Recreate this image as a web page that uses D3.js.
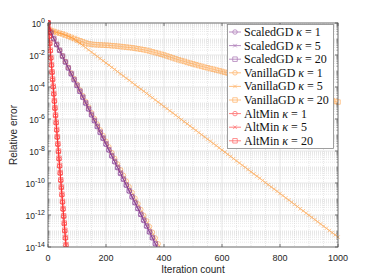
<!DOCTYPE html>
<html><head><meta charset="utf-8">
<script src="https://cdn.jsdelivr.net/npm/d3@7"></script>
<style>body{margin:0;background:#fff}svg{display:block}</style>
</head><body><svg id="c" width="374" height="280"></svg>
<script>
// ---- data (log10 of relative error) ----
const iters10_380 = [0,10,20,30,40,50,60,70,80,90,100,110,120,130,140,150,160,170,180,190,200,210,220,230,240,250,260,270,280,290,300,310,320,330,340,350,360,370,380];
const iters10_390 = iters10_380.concat([390]);
const iters10_1000 = [0,10,20,30,40,50,60,70,80,90,100,110,120,130,140,150,160,170,180,190,200,210,220,230,240,250,260,270,280,290,300,310,320,330,340,350,360,370,380,390,400,410,420,430,440,450,460,470,480,490,500,510,520,530,540,550,560,570,580,590,600,610,620,630,640,650,660,670,680,690,700,710,720,730,740,750,760,770,780,790,800,810,820,830,840,850,860,870,880,890,900,910,920,930,940,950,960,970,980,990,1000];
const iters2_64 = [0,2,4,6,8,10,12,14,16,18,20,22,24,26,28,30,32,34,36,38,40,42,44,46,48,50,52,54,56,58,60,62,64];

const scaledGD1 = [0,-0.62,-1.0,-1.37,-1.73,-2.10,-2.46,-2.83,-3.20,-3.56,-3.93,-4.29,-4.66,-5.03,-5.39,-5.76,-6.12,-6.49,-6.86,-7.22,-7.59,-7.95,-8.32,-8.69,-9.05,-9.42,-9.78,-10.15,-10.52,-10.88,-11.25,-11.61,-11.98,-12.35,-12.71,-13.08,-13.44,-13.81,-14.17];
const scaledGD5 = [0,-0.60,-0.98,-1.35,-1.71,-2.08,-2.45,-2.81,-3.18,-3.55,-3.91,-4.28,-4.64,-5.01,-5.38,-5.74,-6.11,-6.47,-6.84,-7.21,-7.57,-7.94,-8.30,-8.67,-9.04,-9.40,-9.77,-10.13,-10.50,-10.87,-11.23,-11.60,-11.96,-12.33,-12.70,-13.06,-13.43,-13.79,-14.16];
const scaledGD20 = [0,-0.58,-0.96,-1.33,-1.70,-2.06,-2.43,-2.80,-3.16,-3.53,-3.89,-4.26,-4.63,-4.99,-5.36,-5.72,-6.09,-6.46,-6.82,-7.19,-7.55,-7.92,-8.29,-8.65,-9.02,-9.38,-9.75,-10.12,-10.48,-10.85,-11.21,-11.58,-11.95,-12.31,-12.68,-13.04,-13.41,-13.78,-14.14];
const vanillaGD1 = [0,-0.60,-0.98,-1.34,-1.69,-2.05,-2.40,-2.76,-3.12,-3.47,-3.83,-4.18,-4.54,-4.90,-5.25,-5.61,-5.96,-6.32,-6.68,-7.03,-7.39,-7.74,-8.10,-8.46,-8.81,-9.17,-9.52,-9.88,-10.24,-10.59,-10.95,-11.30,-11.66,-12.02,-12.37,-12.73,-13.08,-13.44,-13.80,-14.15];
const vanillaGD5 = [0,-0.47,-0.53,-0.59,-0.64,-0.69,-0.76,-0.83,-0.91,-1.00,-1.14,-1.27,-1.41,-1.54,-1.68,-1.82,-1.95,-2.09,-2.22,-2.36,-2.50,-2.63,-2.77,-2.90,-3.04,-3.18,-3.31,-3.45,-3.58,-3.72,-3.86,-3.99,-4.13,-4.26,-4.40,-4.54,-4.67,-4.81,-4.94,-5.08,-5.22,-5.35,-5.49,-5.62,-5.76,-5.90,-6.03,-6.17,-6.30,-6.44,-6.58,-6.71,-6.85,-6.98,-7.12,-7.26,-7.39,-7.53,-7.66,-7.80,-7.94,-8.07,-8.21,-8.34,-8.48,-8.62,-8.75,-8.89,-9.02,-9.16,-9.30,-9.43,-9.57,-9.70,-9.84,-9.98,-10.11,-10.25,-10.38,-10.52,-10.66,-10.79,-10.93,-11.06,-11.20,-11.34,-11.47,-11.61,-11.74,-11.88,-12.02,-12.15,-12.29,-12.42,-12.56,-12.70,-12.83,-12.97,-13.10,-13.24,-13.38];
const vanillaGD20 = [0,-0.47,-0.53,-0.59,-0.64,-0.69,-0.76,-0.83,-0.90,-0.97,-1.04,-1.11,-1.18,-1.25,-1.30,-1.33,-1.35,-1.36,-1.37,-1.38,-1.39,-1.40,-1.42,-1.43,-1.45,-1.47,-1.49,-1.51,-1.53,-1.55,-1.58,-1.61,-1.64,-1.67,-1.71,-1.75,-1.80,-1.85,-1.90,-1.95,-2.00,-2.06,-2.12,-2.18,-2.24,-2.30,-2.35,-2.40,-2.46,-2.51,-2.56,-2.61,-2.66,-2.71,-2.76,-2.80,-2.85,-2.89,-2.94,-2.98,-3.03,-3.08,-3.13,-3.17,-3.22,-3.27,-3.32,-3.37,-3.41,-3.46,-3.51,-3.56,-3.61,-3.65,-3.70,-3.75,-3.80,-3.85,-3.89,-3.94,-3.99,-4.04,-4.09,-4.13,-4.18,-4.23,-4.28,-4.33,-4.37,-4.42,-4.47,-4.52,-4.57,-4.61,-4.66,-4.71,-4.76,-4.81,-4.85,-4.90,-4.94];
const altMin1 = [0,-0.40,-0.85,-1.30,-1.76,-2.21,-2.66,-3.11,-3.56,-4.01,-4.46,-4.91,-5.36,-5.81,-6.26,-6.71,-7.16,-7.61,-8.06,-8.51,-8.96,-9.41,-9.86,-10.31,-10.76,-11.21,-11.66,-12.11,-12.56,-13.01,-13.46,-13.91,-14.36];
const altMin5 = [0,-0.38,-0.83,-1.28,-1.73,-2.18,-2.63,-3.08,-3.53,-3.98,-4.43,-4.88,-5.33,-5.78,-6.23,-6.68,-7.13,-7.58,-8.03,-8.48,-8.93,-9.38,-9.83,-10.28,-10.73,-11.18,-11.63,-12.08,-12.53,-12.98,-13.43,-13.88,-14.33];
const altMin20 = [0,-0.36,-0.80,-1.25,-1.70,-2.15,-2.60,-3.05,-3.50,-3.95,-4.40,-4.85,-5.30,-5.75,-6.20,-6.65,-7.10,-7.55,-8.00,-8.45,-8.90,-9.35,-9.80,-10.25,-10.70,-11.15,-11.60,-12.05,-12.50,-12.95,-13.40,-13.85,-14.30];

const legendLabels = ["ScaledGD","ScaledGD","ScaledGD","VanillaGD","VanillaGD","VanillaGD","AltMin","AltMin","AltMin"];
const kappas = [1,5,20,1,5,20,1,5,20];
const xTicks = [0,200,400,600,800,1000];
const yTickExps = [0,-2,-4,-6,-8,-10,-12,-14];

// ---- styles ----
const PURPLE="#7E2F8E", ORANGE="#FF8C1A", RED="#FF1A1A";
const series = [
  {name:"ScaledGD",k:1,it:iters10_380,v:scaledGD1,c:PURPLE,m:"o"},
  {name:"ScaledGD",k:5,it:iters10_380,v:scaledGD5,c:PURPLE,m:"x"},
  {name:"ScaledGD",k:20,it:iters10_380,v:scaledGD20,c:PURPLE,m:"s"},
  {name:"VanillaGD",k:1,it:iters10_390,v:vanillaGD1,c:ORANGE,m:"o"},
  {name:"VanillaGD",k:5,it:iters10_1000,v:vanillaGD5,c:ORANGE,m:"x"},
  {name:"VanillaGD",k:20,it:iters10_1000,v:vanillaGD20,c:ORANGE,m:"s"},
  {name:"AltMin",k:1,it:iters2_64,v:altMin1,c:RED,m:"o"},
  {name:"AltMin",k:5,it:iters2_64,v:altMin5,c:RED,m:"x"},
  {name:"AltMin",k:20,it:iters2_64,v:altMin20,c:RED,m:"s"}
];

const L=48,R=338,T=23,B=247;
const svg=d3.select("#c");
const x=d3.scaleLinear().domain([0,1000]).range([L,R]);
const y=d3.scaleLog().domain([1e-14,1]).range([B,T]);

// grid
const g=svg.append("g");
const minorY=[];
for(let e=-14;e<0;e++){for(let m=1;m<=9;m++){if(m===1&&e%2===0)continue;minorY.push(m*Math.pow(10,e));}}
g.selectAll(".my").data(minorY).join("line")
 .attr("x1",L).attr("x2",R).attr("y1",d=>y(d)).attr("y2",d=>y(d))
 .attr("stroke","#d9d9d9").attr("stroke-width",0.6).attr("stroke-dasharray","1,1");
const minorX=d3.range(50,1000,50).filter(v=>v%200!==0);
g.selectAll(".mx").data(minorX).join("line")
 .attr("y1",T).attr("y2",B).attr("x1",d=>x(d)).attr("x2",d=>x(d))
 .attr("stroke","#d9d9d9").attr("stroke-width",0.6).attr("stroke-dasharray","1,1");
g.selectAll(".gy").data(yTickExps).join("line")
 .attr("x1",L).attr("x2",R).attr("y1",d=>y(Math.pow(10,d))).attr("y2",d=>y(Math.pow(10,d)))
 .attr("stroke","#dcdcdc").attr("stroke-width",0.7);
g.selectAll(".gx").data(xTicks).join("line")
 .attr("y1",T).attr("y2",B).attr("x1",d=>x(d)).attr("x2",d=>x(d))
 .attr("stroke","#dcdcdc").attr("stroke-width",0.7);

// clip
svg.append("clipPath").attr("id","clip").append("rect").attr("x",L).attr("y",T-3).attr("width",R-L+3).attr("height",B-T+3);

function markerPath(m,s){
  if(m==="o"){const r=s/2;return `M${-r},0a${r},${r} 0 1,0 ${2*r},0a${r},${r} 0 1,0 ${-2*r},0`;}
  if(m==="x"){const r=s/2;return `M${-r},${-r}L${r},${r}M${-r},${r}L${r},${-r}`;}
  const r=s/2;return `M${-r},${-r}H${r}V${r}H${-r}Z`;
}
const line=d3.line().x(d=>x(d[0])).y(d=>y(Math.pow(10,d[1])));
const drawOrder=[3,4,5,0,1,2,6,7,8];
const plot=svg.append("g").attr("clip-path","url(#clip)");
drawOrder.forEach(i=>{
  const s=series[i];
  const pts=s.it.map((t,j)=>[t,s.v[j]]);
  const gg=plot.append("g").attr("opacity",0.6);
  gg.append("path").attr("d",line(pts)).attr("fill","none").attr("stroke",s.c).attr("stroke-width",0.9);
  gg.selectAll("path.m").data(pts).join("path").attr("class","m")
    .attr("transform",d=>`translate(${x(d[0])},${y(Math.pow(10,d[1]))})`)
    .attr("d",markerPath(s.m,s.m==="x"?3.5:4.5)).attr("fill","none").attr("stroke",s.c).attr("stroke-width",0.8);
});

// axes box + ticks
const ax=svg.append("g").attr("stroke","#555").attr("stroke-width",0.8).attr("fill","none");
ax.append("rect").attr("x",L).attr("y",T).attr("width",R-L).attr("height",B-T);
xTicks.forEach(v=>{ax.append("line").attr("x1",x(v)).attr("x2",x(v)).attr("y1",B).attr("y2",B-3);
                    ax.append("line").attr("x1",x(v)).attr("x2",x(v)).attr("y1",T).attr("y2",T+3);});
yTickExps.forEach(e=>{const yy=y(Math.pow(10,e));
  ax.append("line").attr("x1",L).attr("x2",L+3).attr("y1",yy).attr("y2",yy);
  ax.append("line").attr("x1",R).attr("x2",R-3).attr("y1",yy).attr("y2",yy);});
minorY.forEach(v=>{const yy=y(v);
  ax.append("line").attr("x1",L).attr("x2",L+1.5).attr("y1",yy).attr("y2",yy).attr("stroke-width",0.5);
  ax.append("line").attr("x1",R).attr("x2",R-1.5).attr("y1",yy).attr("y2",yy).attr("stroke-width",0.5);});

// tick labels
const lab=svg.append("g").attr("font-family","Liberation Sans, Arial, sans-serif").attr("fill","#262626");
xTicks.forEach(v=>lab.append("text").attr("x",x(v)).attr("y",261).attr("text-anchor","middle").attr("font-size",9).text(v));
yTickExps.forEach(e=>{
  const t=lab.append("text").attr("x",45).attr("y",y(Math.pow(10,e))+4).attr("text-anchor","end").attr("font-size",8.5);
  t.append("tspan").text("10");
  t.append("tspan").attr("dy",-4.5).attr("font-size",7).text(e===0?"0":"-"+(-e));
});
lab.append("text").attr("x",(L+R)/2).attr("y",273).attr("text-anchor","middle").attr("font-size",10).text("Iteration count");
lab.append("text").attr("transform",`translate(17,${(T+B)/2}) rotate(-90)`).attr("text-anchor","middle").attr("font-size",10).text("Relative error");

// legend
const lg=svg.append("g");
lg.append("rect").attr("x",227.5).attr("y",24.5).attr("width",106).attr("height",124).attr("fill","#fff").attr("stroke","#888").attr("stroke-width",0.8);
series.forEach((s,i)=>{
  const yy=32+i*13.6;
  const gg=lg.append("g").attr("opacity",0.6);
  gg.append("line").attr("x1",229).attr("x2",241).attr("y1",yy).attr("y2",yy).attr("stroke",s.c).attr("stroke-width",0.9);
  gg.append("path").attr("transform",`translate(235,${yy})`).attr("d",markerPath(s.m,s.m==="x"?3.5:4.5)).attr("fill","none").attr("stroke",s.c).attr("stroke-width",0.8);
  const t=lg.append("text").attr("x",244).attr("y",yy+4).attr("font-family","Liberation Serif, Times New Roman, serif").attr("font-size",12).attr("fill","#111");
  t.append("tspan").text(legendLabels[i]+" ");
  t.append("tspan").attr("font-style","italic").text("κ");
  t.append("tspan").text(" = "+kappas[i]);
});
</script></body></html>
